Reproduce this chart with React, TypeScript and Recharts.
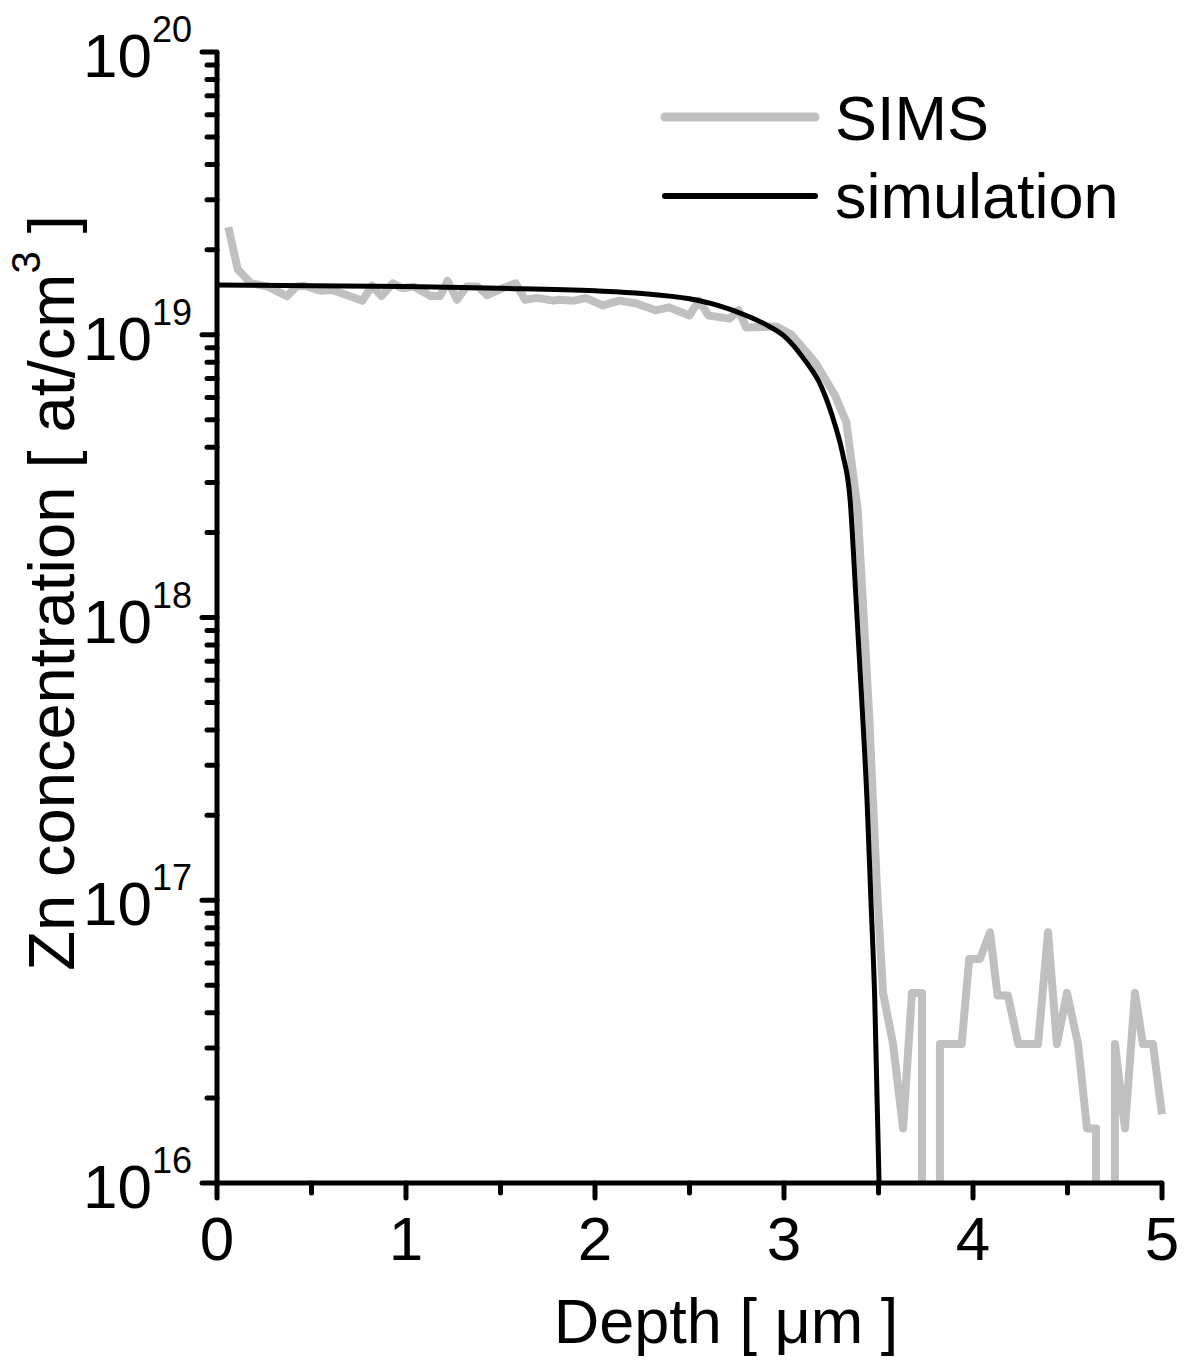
import React from "react";
import { LineChart, Line, XAxis, YAxis, Legend, Label } from "recharts";

// SIMS depth profile, depth in µm / Zn in at/cm3 (drops below 1e16 fall off the axis)
const simsDepth = [
  0.06, 0.11, 0.18, 0.27, 0.37, 0.42, 0.46, 0.55, 0.61, 0.69, 0.77, 0.82, 0.87, 0.93, 0.98,
  1.04, 1.13, 1.18, 1.22, 1.27, 1.32, 1.38, 1.43, 1.51, 1.58, 1.63, 1.69, 1.78, 1.81, 1.89,
  1.95, 2.04, 2.13, 2.22, 2.32, 2.39, 2.5, 2.55, 2.6, 2.71, 2.76, 2.8, 2.96, 3.04, 3.17,
  3.27, 3.33, 3.39, 3.45, 3.49, 3.524, 3.577, 3.63, 3.677, 3.73, 3.73, 3.825, 3.825, 3.94,
  3.98, 4.037, 4.09, 4.13, 4.185, 4.24, 4.344, 4.397, 4.444, 4.497, 4.556, 4.603, 4.651,
  4.651, 4.751, 4.751, 4.804, 4.857, 4.899, 4.952, 5.0,
];
const simsConc = [
  2.4e19, 1.7e19, 1.52e19, 1.48e19, 1.37e19, 1.48e19, 1.49e19, 1.43e19, 1.44e19, 1.38e19,
  1.32e19, 1.49e19, 1.37e19, 1.52e19, 1.46e19, 1.48e19, 1.37e19, 1.37e19, 1.55e19, 1.33e19,
  1.48e19, 1.48e19, 1.38e19, 1.46e19, 1.52e19, 1.33e19, 1.35e19, 1.32e19, 1.33e19, 1.32e19,
  1.35e19, 1.27e19, 1.32e19, 1.29e19, 1.22e19, 1.25e19, 1.17e19, 1.32e19, 1.17e19, 1.14e19,
  1.22e19, 1.06e19, 1.07e19, 1.0e19, 7.9e18, 6.1e18, 4.9e18, 2.4e18, 4.6e17, 1.17e17,
  4.7e16, 3.1e16, 1.56e16, 4.7e16, 4.7e16, 1e14, 1e14, 3.1e16, 3.1e16, 6.2e16, 6.2e16,
  7.7e16, 4.6e16, 4.6e16, 3.1e16, 3.1e16, 7.7e16, 3.1e16, 4.7e16, 3.1e16, 1.56e16, 1.56e16,
  1e14, 1e14, 3.1e16, 1.56e16, 4.7e16, 3.1e16, 3.1e16, 1.75e16,
];

// simulated profile
const simDepth = [
  0, 0.5, 1.0, 1.5, 2.0, 2.25, 2.5, 2.65, 2.8, 2.9, 3.0, 3.1, 3.2, 3.27, 3.31, 3.35, 3.38,
  3.41, 3.44, 3.46, 3.48, 3.503,
];
const simConc = [
  1.5e19, 1.49e19, 1.48e19, 1.46e19, 1.43e19, 1.4e19, 1.34e19, 1.27e19, 1.17e19, 1.09e19,
  9.9e18, 8.3e18, 6.5e18, 4.8e18, 3.8e18, 2.6e18, 1.2e18, 5.3e17, 2.2e17, 1.0e17, 4.5e16,
  1.0e16,
];

const xTicks = [0, 0.5, 1, 1.5, 2, 2.5, 3, 3.5, 4, 4.5, 5];
const decades = [16, 17, 18, 19];
const mantissas = [1, 2, 3, 4, 5, 6, 7, 8, 9];
const yTicks: number[] = [];
decades.forEach((d) => mantissas.forEach((m) => yTicks.push(m * Math.pow(10, d))));
yTicks.push(1e20);

const simsData = simsDepth.map((x, i) => ({ x, y: simsConc[i] }));
const simData = simDepth.map((x, i) => ({ x, y: simConc[i] }));

const FONT = "'Liberation Sans', Arial, sans-serif";

const YTick = (props: any) => {
  const { x, y, payload } = props;
  const v = payload.value as number;
  const e = Math.floor(Math.log10(v) + 1e-9);
  const major = Math.abs(v / Math.pow(10, e) - 1) < 1e-6;
  return (
    <g>
      <line x1={x} x2={x - (major ? 15 : 10)} y1={y} y2={y} stroke="#000" strokeWidth={5} strokeLinecap="round" />
      {major && (
        <text x={x - 25} y={y + 25} textAnchor="end" fontSize={62} fill="#000" fontFamily={FONT}>
          10
          <tspan dy={-35} fontSize={36}>
            {e}
          </tspan>
        </text>
      )}
    </g>
  );
};

const XTick = (props: any) => {
  const { x, y, payload } = props;
  const major = Number.isInteger(payload.value);
  return (
    <g>
      <line x1={x} x2={x} y1={y} y2={y + (major ? 15 : 10)} stroke="#000" strokeWidth={5} strokeLinecap="round" />
      {major && (
        <text x={x} y={y + 77} textAnchor="middle" fontSize={62} fill="#000" fontFamily={FONT}>
          {payload.value}
        </text>
      )}
    </g>
  );
};

const xTitle = () => (
  <text x={726} y={1343} textAnchor="middle" fontSize={63} fill="#000" fontFamily={FONT}>
    Depth [ μm ]
  </text>
);

const yTitle = () => (
  <text
    x={74}
    y={593}
    transform="rotate(-90, 74, 593)"
    textAnchor="middle"
    fontSize={65}
    fill="#000"
    fontFamily={FONT}
  >
    Zn concentration [ at/cm
    <tspan dy={-34} fontSize={40}>
      3
    </tspan>
    <tspan dy={34}> ]</tspan>
  </text>
);

const renderLegend = () => (
  <svg width={500} height={160} style={{ display: "block" }}>
    <line x1={5} x2={155} y1={37} y2={37} stroke="#c0c0c0" strokeWidth={9} strokeLinecap="round" />
    <text x={175} y={60} fontSize={63} fill="#000" fontFamily={FONT}>
      SIMS
    </text>
    <line x1={5} x2={155} y1={116} y2={116} stroke="#000" strokeWidth={6} strokeLinecap="round" />
    <text x={175} y={138} fontSize={63} fill="#000" fontFamily={FONT}>
      simulation
    </text>
  </svg>
);

export default function App() {
  return (
    <div style={{ position: "absolute", left: 0, top: 0, fontFamily: FONT, background: "#fff" }}>
      <LineChart width={1185} height={1361} margin={{ top: 52, right: 23, bottom: 0, left: 0 }}>
        <XAxis
          dataKey="x"
          type="number"
          domain={[0, 5]}
          ticks={xTicks}
          interval={0}
          height={178}
          axisLine={{ stroke: "#000", strokeWidth: 5 }}
          tickLine={false}
          tickSize={0}
          tickMargin={0}
          tick={<XTick />}
        >
          <Label content={xTitle} />
        </XAxis>
        <XAxis
          xAxisId="top"
          orientation="top"
          type="number"
          domain={[0, 5]}
          height={0}
          tick={false}
          tickLine={false}
          axisLine={{ stroke: "#000", strokeWidth: 5 }}
        />
        <YAxis
          dataKey="y"
          scale="log"
          domain={[1e16, 1e20]}
          allowDataOverflow
          ticks={yTicks}
          interval={0}
          width={217}
          axisLine={{ stroke: "#000", strokeWidth: 5 }}
          tickLine={false}
          tickSize={0}
          tickMargin={0}
          tick={<YTick />}
        >
          <Label content={yTitle} />
        </YAxis>
        <YAxis
          yAxisId="right"
          orientation="right"
          scale="log"
          domain={[1e16, 1e20]}
          width={0}
          tick={false}
          tickLine={false}
          axisLine={{ stroke: "#000", strokeWidth: 5 }}
        />
        <Legend
          layout="vertical"
          align="center"
          verticalAlign="middle"
          content={renderLegend}
          wrapperStyle={{ position: "absolute", left: 660, top: 80, width: 500, height: 160 }}
        />
        <Line
          data={simsData}
          dataKey="y"
          name="SIMS"
          type="linear"
          stroke="#c0c0c0"
          strokeWidth={8}
          strokeLinejoin="round"
          dot={false}
          activeDot={false}
          isAnimationActive={false}
        />
        <Line
          data={simData}
          dataKey="y"
          name="simulation"
          type="monotone"
          stroke="#000"
          strokeWidth={5}
          dot={false}
          activeDot={false}
          isAnimationActive={false}
        />
      </LineChart>
    </div>
  );
}
